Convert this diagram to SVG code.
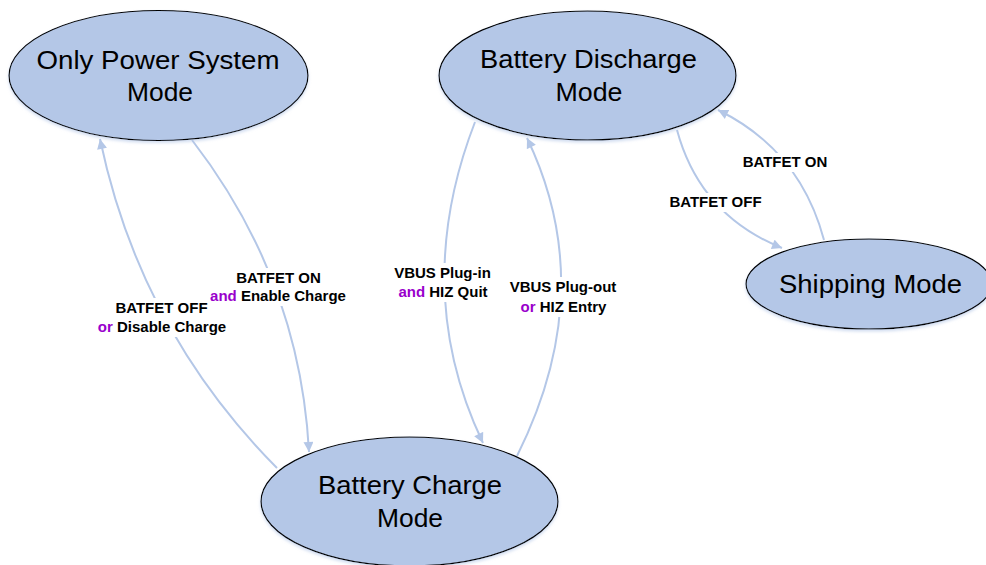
<svg xmlns="http://www.w3.org/2000/svg" width="986" height="565" viewBox="0 0 986 565">
<style>
.node{fill:#b4c7e7;stroke:#000;stroke-width:1.2}
.nt{font-family:"Liberation Sans",Arial,sans-serif;font-size:25px;fill:#000;text-anchor:middle}
.edge{fill:none;stroke:#b4c7e7;stroke-width:2}
.lb{font-family:"Liberation Sans",Arial,sans-serif;font-size:15px;font-weight:bold;fill:#000;text-anchor:middle}
.kw{fill:#9900cc}
.bg{fill:#fff}
</style>
<defs>
<marker id="arr" viewBox="0 0 10 10" refX="10" refY="5" markerWidth="11" markerHeight="10" markerUnits="userSpaceOnUse" orient="auto">
<path d="M0,0 L10,5 L0,10 z" fill="#b4c7e7"/>
</marker>
<filter id="sh" x="-10%" y="-10%" width="120%" height="130%">
<feGaussianBlur in="SourceAlpha" stdDeviation="1.5"/>
<feOffset dx="0" dy="2" result="b"/>
<feFlood flood-color="#b4c7e7" flood-opacity="0.6"/>
<feComposite in2="b" operator="in"/>
<feMerge><feMergeNode/><feMergeNode in="SourceGraphic"/></feMerge>
</filter>
</defs>
<rect width="986" height="565" fill="#fff"/>

<g id="connectors">
<path class="edge" d="M192,140 Q300,280 309,452" marker-end="url(#arr)"/>
<path class="edge" d="M277,468 Q140,330 100,139" marker-end="url(#arr)"/>
<path class="edge" d="M475,122 Q410,290 483,443" marker-end="url(#arr)"/>
<path class="edge" d="M517,456 Q600,290 527,138" marker-end="url(#arr)"/>
<path class="edge" d="M677,130 Q700,215 782,248" marker-end="url(#arr)"/>
<path class="edge" d="M824,240 Q800,150 718,110" marker-end="url(#arr)"/>
</g>

<g id="labels">
<rect class="bg" x="206" y="268" width="144" height="38"/>
<rect class="bg" x="94" y="298" width="136" height="39"/>
<rect class="bg" x="390" y="263" width="106" height="39"/>
<rect class="bg" x="506" y="277" width="114" height="40"/>
<rect class="bg" x="739" y="153" width="92" height="19"/>
<rect class="bg" x="665" y="193" width="101" height="19"/>

<text class="lb" x="278.5" y="283">BATFET ON</text>
<text class="lb" x="278" y="301"><tspan class="kw">and</tspan> Enable Charge</text>

<text class="lb" x="161.5" y="313">BATFET OFF</text>
<text class="lb" x="162" y="332"><tspan class="kw">or</tspan> Disable Charge</text>

<text class="lb" x="442.5" y="278">VBUS Plug-in</text>
<text class="lb" x="443" y="297"><tspan class="kw">and</tspan> HIZ Quit</text>

<text class="lb" x="563" y="292">VBUS Plug-out</text>
<text class="lb" x="563.5" y="312"><tspan class="kw">or</tspan> HIZ Entry</text>

<text class="lb" x="785" y="167">BATFET ON</text>
<text class="lb" x="715.5" y="207">BATFET OFF</text>
</g>

<g id="only-power-system-mode">
<ellipse class="node" cx="158.5" cy="75.5" rx="149.5" ry="65" filter="url(#sh)"/>
<text class="nt" x="158" y="69" textLength="243" lengthAdjust="spacingAndGlyphs">Only Power System</text>
<text class="nt" x="160" y="101" textLength="66" lengthAdjust="spacingAndGlyphs">Mode</text>
</g>

<g id="battery-discharge-mode">
<ellipse class="node" cx="587.5" cy="75.5" rx="148.5" ry="64.5" filter="url(#sh)"/>
<text class="nt" x="588.5" y="68" textLength="217" lengthAdjust="spacingAndGlyphs">Battery Discharge</text>
<text class="nt" x="589" y="100.5" textLength="67" lengthAdjust="spacingAndGlyphs">Mode</text>
</g>

<g id="battery-charge-mode">
<ellipse class="node" cx="409.5" cy="501.5" rx="148.5" ry="64.5" filter="url(#sh)"/>
<text class="nt" x="410" y="494" textLength="184" lengthAdjust="spacingAndGlyphs">Battery Charge</text>
<text class="nt" x="410" y="527" textLength="66" lengthAdjust="spacingAndGlyphs">Mode</text>
</g>

<g id="shipping-mode">
<ellipse class="node" cx="869" cy="284" rx="123" ry="45" filter="url(#sh)"/>
<text class="nt" x="870.5" y="293" textLength="183" lengthAdjust="spacingAndGlyphs">Shipping Mode</text>
</g>
</svg>
